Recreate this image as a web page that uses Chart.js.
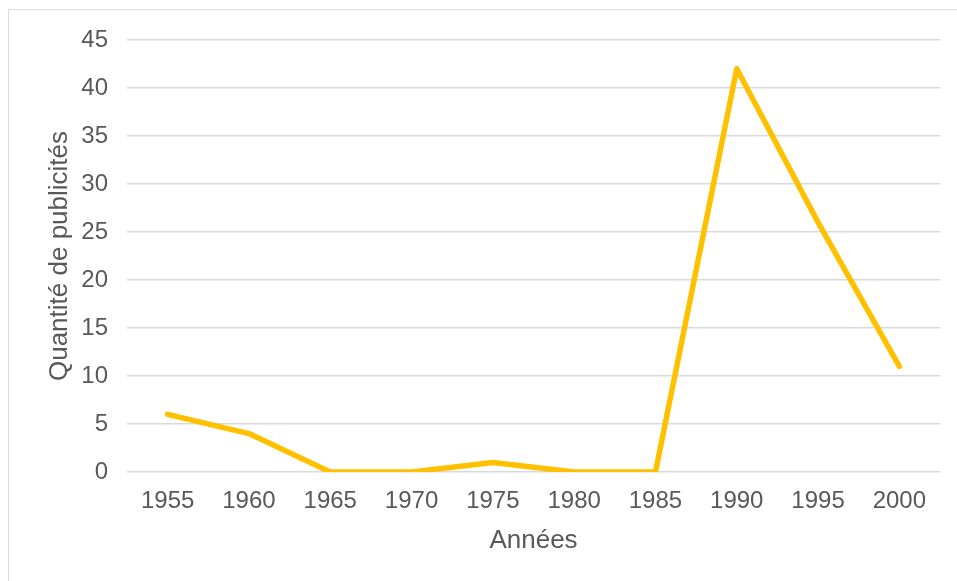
<!DOCTYPE html>
<html lang="fr">
<head>
<meta charset="utf-8">
<script src="https://cdn.jsdelivr.net/npm/chart.js@4/dist/chart.umd.min.js"></script>
<style>
  html, body { margin: 0; padding: 0; background: #ffffff; overflow: hidden; }
  #frame {
    position: absolute; left: 8px; top: 9px; width: 1000px; height: 700px;
    border-top: 1px solid #d9d9d9; border-left: 1px solid #d9d9d9;
  }
  #wrap { position: absolute; left: 0; top: 0; width: 957px; height: 581px; }
</style>
</head>
<body>
<div id="frame"></div>
<div id="wrap"><canvas id="chart"></canvas></div>
<script>
// années et nombre de publicités
var annees = ['1955', '1960', '1965', '1970', '1975', '1980', '1985', '1990', '1995', '2000'];
var publicites = [6, 4, 0, 0, 1, 0, 0, 42, 26, 11];
var y_ticks = [0, 5, 10, 15, 20, 25, 30, 35, 40, 45];

var text_color = '#595959';
var grid_color = '#d9d9d9';
var line_color = '#ffc000';

var ctx = document.getElementById('chart');

var cfg = {
    type: 'line',
    data: {
        labels: annees,
        datasets: [{
            label: 'Quantité de publicités',
            data: publicites,
            borderColor: line_color,
            backgroundColor: line_color,
            borderWidth: 5.5,
            borderCapStyle: 'round',
            borderJoinStyle: 'round',
            pointRadius: 0,
            tension: 0
        }]
    },
    options: {
        responsive: true,
        maintainAspectRatio: false,
        animation: false,
        layout: {
            padding: { top: 40, right: 17, left: 0, bottom: 0 }
        },
        scales: {
            x: {
                offset: true,
                grid: { display: false, drawTicks: false },
                border: { display: false },
                ticks: {
                    color: text_color,
                    padding: 15,
                    maxRotation: 0,
                    font: { family: '"Liberation Sans", Arial, sans-serif', size: 24 }
                },
                title: {
                    display: true,
                    text: 'Années',
                    color: text_color,
                    padding: { top: 0, bottom: 25 },
                    font: { family: '"Liberation Sans", Arial, sans-serif', size: 26 }
                },
                afterFit: function (scale) { scale.height = 109; }
            },
            y: {
                min: 0,
                max: 45,
                afterBuildTicks: function (scale) {
                    scale.ticks = y_ticks.map(function (v) { return { value: v }; });
                },
                grid: { color: grid_color, lineWidth: 1.4, drawTicks: false },
                border: { display: false },
                ticks: {
                    color: text_color,
                    padding: 19,
                    font: { family: '"Liberation Sans", Arial, sans-serif', size: 24 }
                },
                title: {
                    display: true,
                    text: 'Quantité de publicités',
                    color: text_color,
                    padding: { top: 44, bottom: 0 },
                    font: { family: '"Liberation Sans", Arial, sans-serif', size: 26 }
                },
                afterFit: function (scale) { scale.width = 127; }
            }
        },
        plugins: {
            legend: { display: false },
            tooltip: { enabled: false }
        }
    }
};

const chart = new Chart(ctx, cfg);
</script>
</body>
</html>
